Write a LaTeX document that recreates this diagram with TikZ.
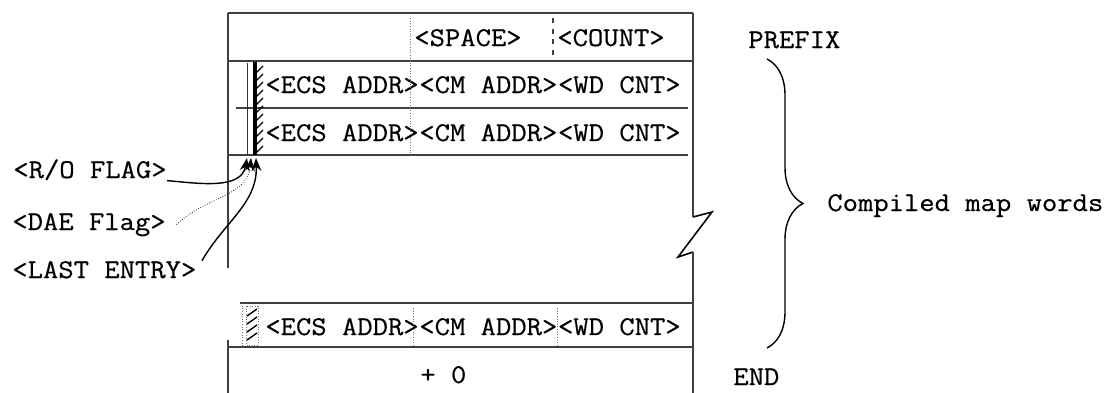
\documentclass[tikz,border=0pt]{standalone}
\usepackage{fontspec}
\newfontfamily\typewr{Latin Modern Mono}[FakeBold=0.5,FakeStretch=1.1]
\usetikzlibrary{arrows.meta,positioning,decorations.pathreplacing}

\begin{document}
\begin{tikzpicture}[x=0.2mm,y=-0.2mm,
  typed/.style={font=\typewr\fontsize{15.4}{18}\selectfont,inner sep=0pt,anchor=base west},
  rule/.style={draw=black!75,line width=0.6pt},
  sep/.style={draw=black!55,densely dotted,line width=0.5pt},
  hatch/.style={line width=0.8pt},
  >={Stealth[length=2.6mm,width=2mm]}]

  \useasboundingbox (0,0) rectangle (1111,393);

  % header row
  \node[typed] (space) at (414,46) {<SPACE>};
  \node[typed] (count) at (557,46) {<COUNT>};

  % map entries
  \node[typed] (ecsA) at (265,93) {<ECS ADDR>};
  \node[typed,right=0pt of ecsA] (cmA) {<CM ADDR>};
  \node[typed,right=0pt of cmA] (wdA) {<WD CNT>};

  \node[typed] (ecsB) at (265,141) {<ECS ADDR>};
  \node[typed,right=0pt of ecsB] (cmB) {<CM ADDR>};
  \node[typed,right=0pt of cmB] (wdB) {<WD CNT>};

  \node[typed] (ecsZ) at (265,335) {<ECS ADDR>};
  \node[typed,right=0pt of ecsZ] (cmZ) {<CM ADDR>};
  \node[typed,right=0pt of cmZ] (wdZ) {<WD CNT>};

  \node[typed] (plusz) at (420,383) {+ 0};

  % table lines
  \draw[rule] (228,13) -- (693,13);
  \draw[rule] (228,61) -- (693,61);
  \draw[rule] (236,108) -- (688,108);
  \draw[rule] (228,155) -- (688,155);
  \draw[rule] (240,303) -- (693,303);
  \draw[rule] (228,347) -- (693,347);
  \draw[rule] (228,13) -- (228,268);
  \draw[rule] (228,340) -- (228,393);
  \draw[rule] (693,13) -- (693,217);
  \draw[line width=0.9pt] (693,217) -- (712,212) -- (678,257) -- (693,252);
  \draw[rule] (693,252) -- (693,393);

  \draw[sep] (410,18) -- (410,155);
  \draw[rule,dashed] (553,18) -- (553,58);
  \draw[sep] (413,308) -- (413,345);
  \draw[sep] (557,308) -- (557,345);
  \draw[sep] (242,303) -- (242,347);

  % flag bits
  \draw[black!80] (247,63) -- (247,155);
  \draw[line width=1.8pt] (255,62) -- (255,155);
  \foreach \y in {66,74,...,146}
    \draw[hatch] (256,\y+7) -- (263,\y);
  \draw[sep] (246,306) rectangle (258,345);
  \foreach \y in {309,317,...,333}
    \draw[hatch] (247,\y+7) -- (257,\y);

  \coordinate (thinfoot) at (247,158);
  \coordinate (hatchfoot) at (251,158);
  \coordinate (barfoot) at (256,158);

  % flag labels
  \node[typed] (roflag) at (13,178) {<R/O FLAG>};
  \node[typed] (daeflag) at (12,230) {<DAE Flag>};
  \node[typed] (lastentry) at (12,278) {<LAST ENTRY>};

  \draw[->,thick] (roflag.south east) to[out=-5,in=-100] (thinfoot);
  \draw[->,densely dotted] ([xshift=6pt]daeflag.east) to[out=45,in=-95] (hatchfoot);
  \draw[->,thick] ([xshift=3pt]lastentry.north east) to[out=60,in=-88] (barfoot);

  % right side notes
  \node[typed] (prefix) at (748,48) {PREFIX};
  \node[typed] (compiled) at (827,211) {Compiled map words};
  \node[typed] (endlabel) at (733,385) {END};

  \coordinate (bracetop) at (767,59);
  \coordinate (bracebot) at (767,348);
  \draw[decorate,decoration={brace,amplitude=7.2mm},line width=0.8pt] (bracetop) -- (bracebot);

\end{tikzpicture}
\end{document}
